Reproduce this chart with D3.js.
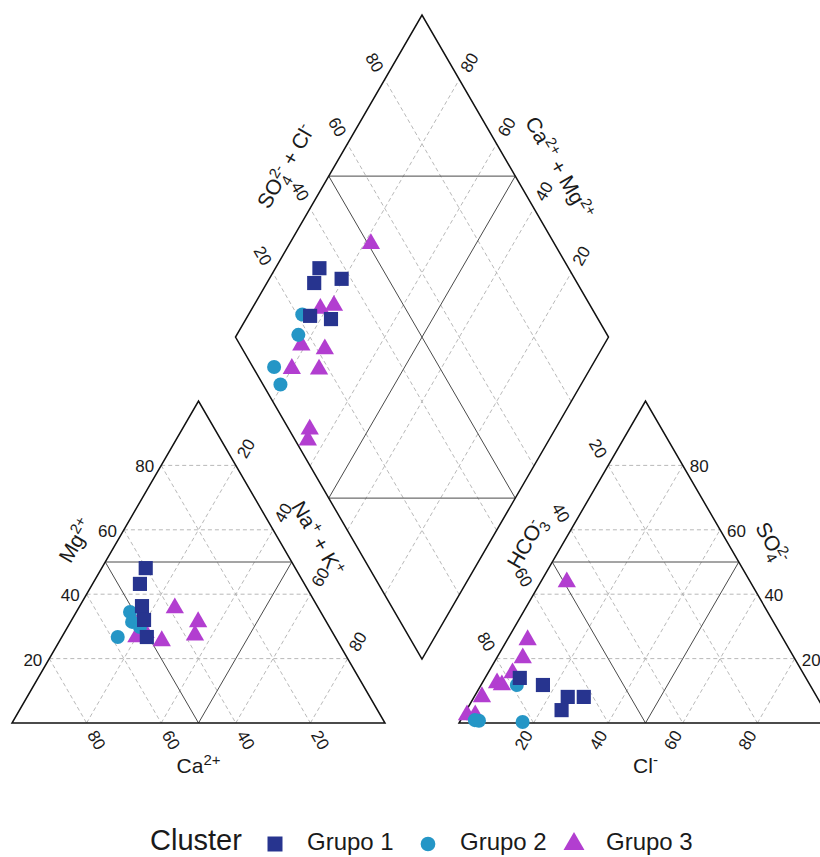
<!DOCTYPE html>
<html><head><meta charset="utf-8">
<script src="https://cdn.jsdelivr.net/npm/d3@7"></script>
<style>html,body{margin:0;padding:0;background:#fff;} svg{display:block;font-family:"Liberation Sans",Arial,sans-serif;}</style>
</head><body><svg id="chart" width="820" height="857"></svg>
<script>
// ---------- data (percent of meq) ----------
const groupNames = ["Grupo 1", "Grupo 2", "Grupo 3"];
const sampleGroup = ["Grupo 1","Grupo 1","Grupo 1","Grupo 1","Grupo 1",
                     "Grupo 2","Grupo 2","Grupo 2","Grupo 2",
                     "Grupo 3","Grupo 3","Grupo 3","Grupo 3","Grupo 3","Grupo 3","Grupo 3","Grupo 3","Grupo 3"];
const caPct   = [40.1,44.1,47.0,48.6,50.5, 51.1,52.1,58.3,50.8, 50.2,49.7,50.5,49.7,38.5,53.3,47.1,34.4,37.3];
const mgPct   = [48.1,43.2,36.3,32.0,26.7, 34.5,31.4,26.7,29.8, 28.0,32.0,28.0,31.4,35.7,26.7,25.5,31.4,27.3];
const naKPct  = [11.8,12.7,16.7,19.4,22.8, 14.4,16.5,15.0,19.4, 21.8,18.3,21.5,18.9,25.8,20.0,27.4,34.2,35.4];
const hco3Pct = [66.8,70.5,76.7,62.5,71.6, 78.6,82.8,94.3,95.3, 49.2,72.8,68.7,83.6,77.9,89.8,82.6,94.4,96.6];
const so4Pct  = [ 8.1, 4.0,14.0, 8.1,11.8, 11.8, 0.3, 0.7, 0.9, 43.8,20.2,25.8,12.4,15.5, 8.1,11.8, 2.5, 2.5];
const clPct   = [25.1,25.5, 9.3,29.4,16.6,  9.6,16.9, 5.0, 3.8,  7.0, 7.0, 5.5, 4.0, 6.6, 2.1, 5.6, 3.1, 0.9];
const tickValues = [20, 40, 60, 80];

// ---------- geometry ----------
const svg = d3.select("#chart");
const side = 373, hgt = 322, x0 = 12, y0 = 723, gap = 74;
const gu = gap / side;
const xS = d3.scaleLinear().domain([0, 1]).range([x0, x0 + side]);
const yS = d3.scaleLinear().domain([0, 1]).range([y0, y0 - hgt]);

// fractions
const catXY = (ca, mg, na) => [xS(na + mg / 2), yS(mg)];
const anXY  = (hc, so, cl) => [xS(1 + gu + cl + so / 2), yS(so)];
const diaXY = (cm, sc) => [xS(1 + gu / 2 - cm / 2 + sc / 2), yS(gu + cm + sc)];

const color = d3.scaleOrdinal().domain(groupNames).range(["#27348f", "#2596c6", "#b23ed0"]);
const shape = d3.scaleOrdinal().domain(groupNames).range([d3.symbolSquare, d3.symbolCircle, d3.symbolTriangle]);
const shapeSize = d3.scaleOrdinal().domain(groupNames).range([200, 155, 145]);

const gGrid = svg.append("g");
const line = d3.line();
function seg(a, b, dashed) {
  gGrid.append("path").attr("d", line([a, b]))
    .attr("fill", "none")
    .attr("stroke", dashed ? "#b0b0b0" : "#4a4a4a")
    .attr("stroke-width", dashed ? 0.9 : 1)
    .attr("stroke-dasharray", dashed ? "4,3" : null);
}

// dashed grid
tickValues.forEach(v => {
  const k = v / 100;
  seg(catXY(1 - k, k, 0), catXY(0, k, 1 - k), true);
  seg(catXY(k, 1 - k, 0), catXY(k, 0, 1 - k), true);
  seg(catXY(1 - k, 0, k), catXY(0, 1 - k, k), true);
  seg(anXY(1 - k, k, 0), anXY(0, k, 1 - k), true);
  seg(anXY(1 - k, 0, k), anXY(0, 1 - k, k), true);
  seg(anXY(k, 1 - k, 0), anXY(k, 0, 1 - k), true);
  seg(diaXY(k, 0), diaXY(k, 1), true);
  seg(diaXY(0, k), diaXY(1, k), true);
});
// solid facies lines
const h5 = 0.5;
seg(catXY(h5, h5, 0), catXY(0, h5, h5), false);
seg(catXY(h5, h5, 0), catXY(h5, 0, h5), false);
seg(catXY(h5, 0, h5), catXY(0, h5, h5), false);
seg(anXY(h5, h5, 0), anXY(0, h5, h5), false);
seg(anXY(h5, 0, h5), anXY(0, h5, h5), false);
seg(anXY(h5, h5, 0), anXY(h5, 0, h5), false);
seg(diaXY(h5, 0), diaXY(h5, 1), false);
seg(diaXY(0, h5), diaXY(1, h5), false);
seg(diaXY(1, h5), diaXY(h5, 1), false);
seg(diaXY(h5, 0), diaXY(0, h5), false);

// outlines
const outline = [
  [catXY(1, 0, 0), catXY(0, 0, 1), catXY(0, 1, 0)],
  [anXY(1, 0, 0), anXY(0, 0, 1), anXY(0, 1, 0)],
  [diaXY(0, 0), diaXY(1, 0), diaXY(1, 1), diaXY(0, 1)]
];
svg.append("g").selectAll("path").data(outline).join("path")
  .attr("d", d => line(d) + "Z")
  .attr("fill", "none").attr("stroke", "#111").attr("stroke-width", 1.5)
  .attr("stroke-linejoin", "miter");

// ---------- tick labels ----------
const gTick = svg.append("g").attr("font-size", 17).attr("fill", "#1a1a1a");
function tick(p, dx, dy, rot, txt, anchor) {
  gTick.append("text")
    .attr("transform", `translate(${p[0] + dx},${p[1] + dy}) rotate(${rot})`)
    .attr("text-anchor", anchor || "middle")
    .attr("dy", "0.35em")
    .text(txt);
}
tickValues.forEach(v => {
  const k = v / 100;
  tick(catXY(1 - k, k, 0), -7, 1, 0, v, "end");           // Mg
  tick(catXY(k, 0, 1 - k), 10, 17, 60, v);                // Ca
  tick(catXY(0, 1 - k, k), 10, -17, -60, v);              // Na+K
  tick(anXY(k, 1 - k, 0), -10, -17, 60, v);               // HCO3
  tick(anXY(1 - k, 0, k), -10, 17, -60, v);               // Cl
  tick(anXY(0, k, 1 - k), 7, 1, 0, v, "start");           // SO4
  tick(diaXY(1, k), -10, -17, 60, v);                     // SO4+Cl
  tick(diaXY(k, 1), 10, -17, -60, v);                     // Ca+Mg
});

// ---------- axis titles ----------
const lerp = (a, b, t) => [a[0] + (b[0] - a[0]) * t, a[1] + (b[1] - a[1]) * t];
function title(p, nrm, d, rot, parts) {
  const cx = p[0] + nrm[0] * d, cy = p[1] + nrm[1] * d;
  const t = svg.append("text")
    .attr("transform", `translate(${cx},${cy}) rotate(${rot})`)
    .attr("text-anchor", "middle").attr("font-size", 21).attr("fill", "#1a1a1a");
  let cur = 0;
  parts.forEach(([txt, mode]) => {
    const ts = t.append("tspan").text(txt);
    let target = 7;
    if (mode === "sup" || mode === "supstack") { target = -1; ts.attr("font-size", 15); }
    if (mode === "sub") { target = 13; ts.attr("font-size", 15); }
    if (mode === "supstack") ts.attr("dx", -8.3);
    ts.attr("dy", target - cur);
    cur = target;
  });
}
const nL = [-0.866, -0.5], nR = [0.866, -0.5];
title(lerp(catXY(1, 0, 0), catXY(0, 1, 0), 0.51), nL, 36, -60, [["Mg", "n"], ["2+", "sup"]]);
title(lerp(catXY(0, 1, 0), catXY(0, 0, 1), 0.48), nR, 34, 60, [["Na", "n"], ["+", "sup"], [" + K", "n"], ["+", "sup"]]);
title(catXY(0.5, 0, 0.5), [0, 1], 43, 0, [["Ca", "n"], ["2+", "sup"]]);
title(lerp(anXY(1, 0, 0), anXY(0, 1, 0), 0.51), nL, 32, -60, [["HCO", "n"], ["3", "sub"], ["-", "supstack"]]);
title(lerp(anXY(0, 1, 0), anXY(0, 0, 1), 0.50), nR, 38, 60, [["SO", "n"], ["4", "sub"], ["2-", "supstack"]]);
title(anXY(0.5, 0, 0.5), [0, 1], 43, 0, [["Cl", "n"], ["-", "sup"]]);
title(lerp(diaXY(1, 0), diaXY(1, 1), 0.465), nL, 42, -60, [["SO", "n"], ["4", "sub"], ["2-", "supstack"], [" + Cl", "n"], ["-", "sup"]]);
title(lerp(diaXY(0, 1), diaXY(1, 1), 0.46), nR, 42, 60, [["Ca", "n"], ["2+", "sup"], [" + Mg", "n"], ["2+", "sup"]]);

// ---------- points ----------
const idx = d3.range(caPct.length).sort((a, b) =>
  groupNames.indexOf(sampleGroup[b]) - groupNames.indexOf(sampleGroup[a]));
const sym = i => d3.symbol().type(shape(sampleGroup[i])).size(shapeSize(sampleGroup[i]))();
const pos = {
  cat: i => catXY(caPct[i] / 100, mgPct[i] / 100, naKPct[i] / 100),
  an: i => anXY(hco3Pct[i] / 100, so4Pct[i] / 100, clPct[i] / 100),
  dia: i => diaXY((caPct[i] + mgPct[i]) / 100, (so4Pct[i] + clPct[i]) / 100)
};
["cat", "an", "dia"].forEach(key => {
  svg.append("g").selectAll("path").data(idx).join("path")
    .attr("d", sym)
    .attr("transform", i => { const p = pos[key](i); return `translate(${p[0]},${p[1]})`; })
    .attr("fill", i => color(sampleGroup[i]));
});

// ---------- legend ----------
const lg = svg.append("g").attr("fill", "#1a1a1a");
lg.append("text").attr("x", 150).attr("y", 850).attr("font-size", 29).text("Cluster");
const legendSymX = [275, 428, 574];
groupNames.forEach((g, j) => {
  lg.append("path").attr("d", d3.symbol().type(shape(g)).size(j === 0 ? 225 : (j === 1 ? 170 : 190))())
    .attr("transform", `translate(${legendSymX[j]},${844})`).attr("fill", color(g));
  lg.append("text").attr("x", legendSymX[j] + 32).attr("y", 850).attr("font-size", 24).text(g);
});
</script></body></html>
